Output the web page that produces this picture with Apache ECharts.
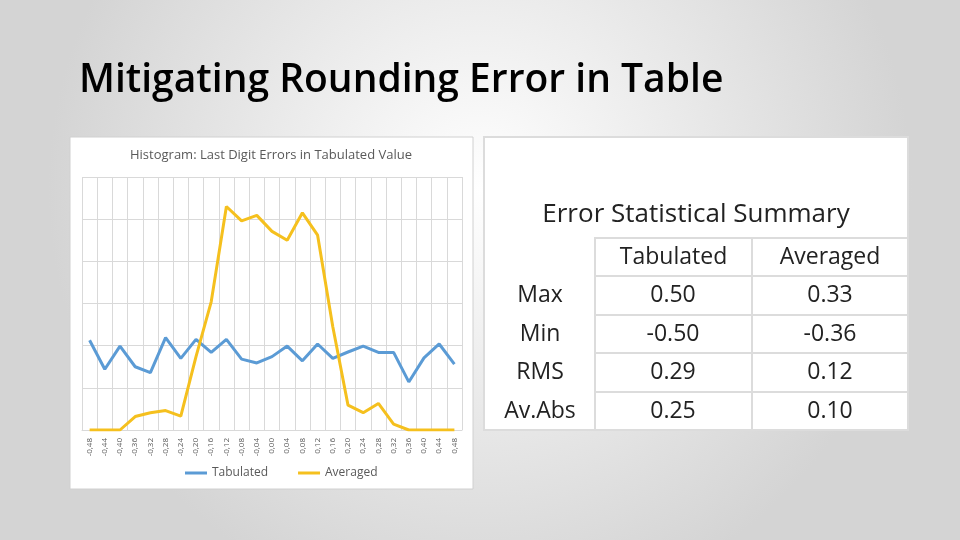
<!DOCTYPE html>
<html><head><meta charset="utf-8">
<script src="https://cdn.jsdelivr.net/npm/echarts@6/dist/echarts.min.js"></script>
<style>html,body{margin:0;padding:0}#c{width:960px;height:540px}</style>
</head><body><div id="c"></div>
<script>
// data
var bins = ['-0,48','-0,44','-0,40','-0,36','-0,32','-0,28','-0,24','-0,20','-0,16','-0,12','-0,08','-0,04','0,00',
  '0,04','0,08','0,12','0,16','0,20','0,24','0,28','0,32','0,36','0,40','0,44','0,48'];
var tabulated = [21.3,14.4,19.9,15,13.6,21.9,17,21.5,18.4,21.5,16.8,15.9,17.4,19.9,16.4,20.4,17,18.5,19.9,18.4,18.4,11.4,17.1,20.4,15.6];
var averaged = [0,0,0,3.2,4.1,4.6,3.3,17.4,30.4,53,49.6,50.9,47.1,45,51.5,46.2,24.5,5.9,4.1,6.3,1.4,0,0,0,0];
var rowLabels = ['Max','Min','RMS','Av.Abs'];
var colHeads = ['Tabulated','Averaged'];
var statTab = ['0.50','-0.50','0.29','0.25'];
var statAvg = ['0.33','-0.36','0.12','0.10'];

var chart = echarts.init(document.getElementById('c'));
var g = [];
var rowY = [238, 276, 315, 353, 392, 430];
var colX = [595, 752, 908];
// table cells
for (var r = 0; r < 5; r++) {
  for (var c = 0; c < 2; c++) {
    g.push({type:'rect', shape:{x:colX[c], y:rowY[r], width:colX[c+1]-colX[c], height:rowY[r+1]-rowY[r]},
      style:{fill:'#fff', stroke:'#dcdcdc', lineWidth:2}});
  }
}
g.push({type:'text', style:{text:'Error Statistical Summary', x:696, y:215, align:'center', verticalAlign:'middle',
  font:'26px "Open Sans"', fill:'#222'}});
colHeads.forEach(function (h, c) {
  g.push({type:'text', style:{text:h, x:(colX[c]+colX[c+1])/2, y:257, align:'center', verticalAlign:'middle', font:'23px "Open Sans"', fill:'#222'}});
});
rowLabels.forEach(function (l, r) {
  var y = (rowY[r+1]+rowY[r+2])/2;
  g.push({type:'text', style:{text:l, x:540, y:y, align:'center', verticalAlign:'middle', font:'23px "Open Sans"', fill:'#222'}});
  g.push({type:'text', style:{text:statTab[r], x:673, y:y, align:'center', verticalAlign:'middle', font:'23px "Open Sans"', fill:'#222'}});
  g.push({type:'text', style:{text:statAvg[r], x:830, y:y, align:'center', verticalAlign:'middle', font:'23px "Open Sans"', fill:'#222'}});
});

chart.setOption({
  backgroundColor: new echarts.graphic.RadialGradient(0.5, 0.35, 0.8, [{offset:0,color:'#ffffff'},{offset:1,color:'#d4d4d4'}]),
  color: ['#5b9bd5', '#f5c01e'],
  title: {
    text: 'Mitigating Rounding Error in Table',
    left: 74, top: 56,
    textStyle: {fontFamily:'Open Sans', fontSize:39, fontWeight:600, color:'#000'}
  },
  graphic: [
    {type:'rect', z:-1, shape:{x:70, y:137, width:403, height:352}, style:{fill:'#fff', stroke:'#d0d0d0', lineWidth:1}},
    {type:'rect', z:-1, shape:{x:484, y:137, width:424, height:293}, style:{fill:'#fff', stroke:'#dcdcdc', lineWidth:2}},
    {type:'text', style:{text:'Histogram: Last Digit Errors in Tabulated Value', x:271, y:155, align:'center', verticalAlign:'middle',
      font:'13px "Open Sans"', fill:'#595959'}}
  ].concat(g),
  legend: {
    bottom: 56, left: 180, itemWidth: 22, itemHeight: 3, icon: 'rect', itemGap: 30,
    textStyle: {fontFamily:'Open Sans', fontSize:12, color:'#595959'}
  },
  grid: {left: 82, right: 498, top: 177, bottom: 110},
  xAxis: {
    type: 'category', data: bins, boundaryGap: true,
    axisLine: {lineStyle:{color:'#d9d9d9'}}, axisTick: {show:false},
    axisLabel: {rotate: 90, interval: 0, fontSize: 8, color:'#595959', fontFamily:'Open Sans'},
    splitLine: {show:true, interval:0, lineStyle:{color:'#d9d9d9'}}
  },
  yAxis: {
    type: 'value', min: 0, max: 60, interval: 10,
    axisLabel: {show:false}, axisLine: {show:false}, axisTick: {show:false},
    splitLine: {lineStyle:{color:'#d9d9d9'}}
  },
  series: [
    {name:'Tabulated', type:'line', data:tabulated, symbol:'none', lineStyle:{width:3}},
    {name:'Averaged', type:'line', data:averaged, symbol:'none', lineStyle:{width:3}}
  ]
});
</script></body></html>
